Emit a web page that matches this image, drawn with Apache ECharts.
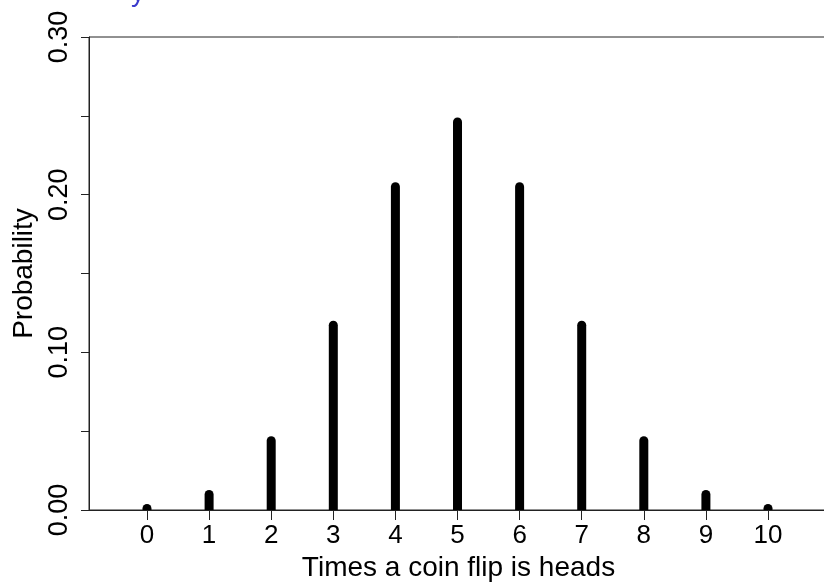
<!DOCTYPE html>
<html>
<head>
<meta charset="utf-8">
<script src="https://cdn.jsdelivr.net/npm/echarts@6/dist/echarts.min.js"></script>
<style>
html,body{margin:0;padding:0;background:#fff;overflow:hidden;}
#chart{width:830px;height:583px;}
</style>
</head>
<body>
<div id="chart"></div>
<script>
// Data
var heads = [0, 1, 2, 3, 4, 5, 6, 7, 8, 9, 10];
var probability = [0.001, 0.0098, 0.0439, 0.1172, 0.2051, 0.2461, 0.2051, 0.1172, 0.0439, 0.0098, 0.001];
var xTicks = [0, 1, 2, 3, 4, 5, 6, 7, 8, 9, 10];
var yLabelValues = [0, 0.1, 0.2, 0.3];
var xTitle = 'Times a coin flip is heads';
var yTitle = 'Probability';

var FONT = '"Liberation Sans", Arial, sans-serif';
var chart = echarts.init(document.getElementById('chart'), null, {renderer: 'canvas'});

var points = heads.map(function (h, i) { return [h, probability[i]]; });

chart.setOption({
  animation: false,
  backgroundColor: '#ffffff',
  title: {
    text: 'y',
    left: 126,
    top: -26,
    textStyle: {color: '#3a3acc', fontFamily: FONT, fontSize: 28, fontWeight: 'normal'}
  },
  grid: {
    left: 89, top: 37, right: 2, bottom: 73,
    outerBoundsMode: 'none',
    containLabel: false,
    show: true, borderColor: '#222', borderWidth: 1, backgroundColor: 'transparent'
  },
  xAxis: {
    type: 'value',
    min: -0.934,
    max: 10.966,
    splitLine: {show: false},
    axisLine: {show: true, onZero: false, lineStyle: {color: '#222', width: 1}},
    axisTick: {show: true, customValues: xTicks, length: 10, lineStyle: {color: '#222', width: 1}},
    axisLabel: {
      customValues: xTicks,
      fontFamily: FONT, fontSize: 26, color: '#000', margin: 13,
      formatter: function (v) { return String(Math.round(v)); }
    },
    name: xTitle,
    nameLocation: 'middle',
    nameGap: 42,
    nameTextStyle: {fontFamily: FONT, fontSize: 28, color: '#000'}
  },
  yAxis: {
    type: 'value',
    min: 0,
    max: 0.3,
    interval: 0.05,
    splitLine: {show: false},
    axisLine: {show: true, onZero: false, lineStyle: {color: '#222', width: 1}},
    axisTick: {show: true, length: 8, lineStyle: {color: '#222', width: 1}},
    axisLabel: {
      customValues: yLabelValues,
      rotate: 90,
      fontFamily: FONT, fontSize: 27, color: '#000', margin: 16,
      formatter: function (v) { return v.toFixed(2); }
    },
    name: yTitle,
    nameLocation: 'middle',
    nameGap: 50,
    nameTextStyle: {fontFamily: FONT, fontSize: 28, color: '#000'}
  },
  series: [{
    type: 'custom',
    clip: true,
    data: points,
    renderItem: function (params, api) {
      var base = api.coord([api.value(0), 0]);
      var top = api.coord([api.value(0), api.value(1)]);
      return {
        type: 'line',
        shape: {x1: base[0], y1: base[1], x2: top[0], y2: top[1]},
        style: {stroke: '#000', lineWidth: 9, lineCap: 'round'}
      };
    }
  }]
});
</script>
</body>
</html>
